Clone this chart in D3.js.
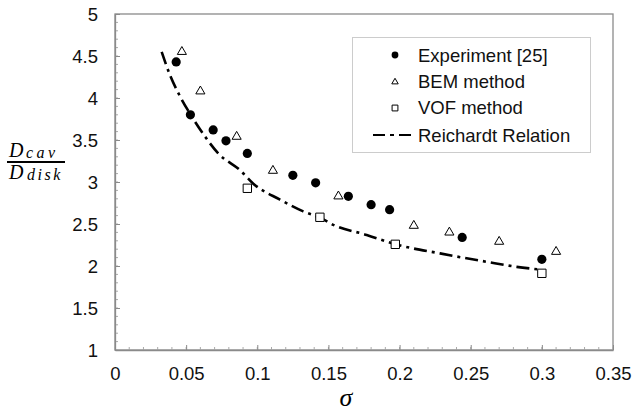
<!DOCTYPE html>
<html><head><meta charset="utf-8">
<script src="https://cdn.jsdelivr.net/npm/d3@7"></script>
<style>body{margin:0;background:#fff}svg{display:block}</style>
</head><body>
<svg id="c" width="632" height="414"></svg>
<script>
// Data
const expSigma = [0.043, 0.053, 0.069, 0.078, 0.093, 0.125, 0.141, 0.164, 0.180, 0.193, 0.244, 0.300];
const expRatio = [4.43, 3.80, 3.62, 3.49, 3.34, 3.08, 2.99, 2.83, 2.73, 2.67, 2.34, 2.08];
const bemSigma = [0.047, 0.060, 0.0855, 0.111, 0.157, 0.210, 0.235, 0.270, 0.310];
const bemRatio = [4.55, 4.08, 3.54, 3.135, 2.83, 2.48, 2.40, 2.29, 2.17];
const vofSigma = [0.093, 0.144, 0.197, 0.300];
const vofRatio = [2.925, 2.58, 2.258, 1.913];
const reiSigma = [0.0328, 0.0387, 0.0457, 0.0532, 0.0633, 0.0726, 0.0879, 0.0972, 0.116, 0.1323, 0.1446, 0.1534, 0.1769, 0.1968, 0.2284, 0.2612, 0.2823, 0.2975];
const reiRatio = [4.55, 4.27, 4.02, 3.80, 3.54, 3.34, 3.14, 2.98, 2.79, 2.65, 2.57, 2.49, 2.37, 2.26, 2.15, 2.05, 1.99, 1.96];
const xTicks = [0, 0.05, 0.1, 0.15, 0.2, 0.25, 0.3, 0.35];
const yTicks = [1, 1.5, 2, 2.5, 3, 3.5, 4, 4.5, 5];
const legendLabels = ["Experiment [25]", "BEM method", "VOF method", "Reichardt Relation"];

const svg = d3.select("#c");
const L = 115, R = 613, T = 14, B = 350;
const x = d3.scaleLinear().domain([0, 0.35]).range([L, R]);
const y = d3.scaleLinear().domain([1, 5]).range([B, T]);
const axisCol = "#8a8a8a";
const font = "Liberation Sans, Arial, sans-serif";

// frame
svg.append("rect").attr("x", L).attr("y", T).attr("width", R - L).attr("height", B - T)
  .attr("fill", "none").attr("stroke", axisCol).attr("stroke-width", 1.3);

// minor ticks
const xMinor = d3.range(0, 36).map(i => i / 100);
const yMinor = d3.range(10, 51).map(i => i / 10);
svg.append("g").selectAll("line").data(xMinor).join("line")
  .attr("x1", d => x(d)).attr("x2", d => x(d)).attr("y1", B).attr("y2", B - 3)
  .attr("stroke", "#aaa").attr("stroke-width", 1);
svg.append("g").selectAll("line").data(yMinor).join("line")
  .attr("x1", L).attr("x2", L + 3).attr("y1", d => y(d)).attr("y2", d => y(d))
  .attr("stroke", "#aaa").attr("stroke-width", 1);

// major axes
const xAxis = svg.append("g").attr("transform", `translate(0,${B})`)
  .call(d3.axisBottom(x).tickValues(xTicks).tickSizeInner(-5).tickSizeOuter(0).tickPadding(16)
    .tickFormat(d => d3.format("")(+d.toFixed(2))));
const yAxis = svg.append("g").attr("transform", `translate(${L},0)`)
  .call(d3.axisLeft(y).tickValues(yTicks).tickSizeInner(-5).tickSizeOuter(0).tickPadding(17)
    .tickFormat(d => d3.format("")(d)));
[xAxis, yAxis].forEach(g => {
  g.select(".domain").attr("stroke", axisCol).attr("stroke-width", 1.3);
  g.selectAll(".tick line").attr("stroke", axisCol);
  g.selectAll(".tick text").attr("fill", "#111").attr("font-family", font).attr("font-size", 18.5);
});
xAxis.selectAll(".tick text").attr("dy", "0.71em").attr("y", 17);
yAxis.selectAll(".tick text").attr("dy", "0.36em");

// Reichardt line
const rei = reiSigma.map((s, i) => [s, reiRatio[i]]);
svg.append("path").datum(rei)
  .attr("d", d3.line().x(d => x(d[0])).y(d => y(d[1])).curve(d3.curveMonotoneX))
  .attr("fill", "none").attr("stroke", "#000").attr("stroke-width", 2.6)
  .attr("stroke-dasharray", "13,5,3,5");

// markers
const sym = (type, size) => d3.symbol().type(type).size(size)();
svg.append("g").selectAll("path").data(vofSigma.map((s, i) => [s, vofRatio[i]])).join("path")
  .attr("transform", d => `translate(${x(d[0])},${y(d[1])})`)
  .attr("d", sym(d3.symbolSquare, 70)).attr("fill", "#fff").attr("stroke", "#000").attr("stroke-width", 1);
svg.append("g").selectAll("path").data(bemSigma.map((s, i) => [s, bemRatio[i]])).join("path")
  .attr("transform", d => `translate(${x(d[0])},${y(d[1])})`)
  .attr("d", sym(d3.symbolTriangle, 36)).attr("fill", "#fff").attr("stroke", "#000").attr("stroke-width", 1);
svg.append("g").selectAll("circle").data(expSigma.map((s, i) => [s, expRatio[i]])).join("circle")
  .attr("cx", d => x(d[0])).attr("cy", d => y(d[1])).attr("r", 4.6).attr("fill", "#000");

// legend
const lg = svg.append("g");
lg.append("rect").attr("x", 352.5).attr("y", 37.5).attr("width", 238).attr("height", 115)
  .attr("fill", "#fff").attr("stroke", "#ccc").attr("stroke-width", 1);
const rows = [55, 81, 107, 135];
lg.append("circle").attr("cx", 395).attr("cy", rows[0]).attr("r", 3.4).attr("fill", "#000");
lg.append("path").attr("transform", `translate(395,${rows[1] + 1})`).attr("d", sym(d3.symbolTriangle, 18))
  .attr("fill", "#fff").attr("stroke", "#000").attr("stroke-width", 1);
lg.append("path").attr("transform", `translate(395,${rows[2] + 1})`).attr("d", sym(d3.symbolSquare, 34))
  .attr("fill", "#fff").attr("stroke", "#000").attr("stroke-width", 1);
lg.append("line").attr("x1", 373).attr("x2", 416).attr("y1", rows[3]).attr("y2", rows[3])
  .attr("stroke", "#000").attr("stroke-width", 2).attr("stroke-dasharray", "12,5,4,5");
lg.selectAll("text.l").data(legendLabels).join("text").attr("class", "l")
  .attr("x", 418).attr("y", (d, i) => rows[i]).attr("dy", "0.36em")
  .attr("font-family", font).attr("font-size", 18.5).attr("fill", "#111").text(d => d);

// axis titles
const mfont = "Liberation Serif, Times New Roman, serif";
svg.append("text").attr("x", 346).attr("y", 406).attr("text-anchor", "middle")
  .attr("font-family", mfont).attr("font-style", "italic").attr("font-size", 26).text("σ");
const mt = (xx, yy, size, ls, t) => svg.append("text").attr("x", xx).attr("y", yy)
  .attr("font-family", mfont).attr("font-style", "italic").attr("font-size", size)
  .attr("letter-spacing", ls).text(t);
mt(9, 157, 20, 0, "D");
mt(26, 158, 16, 3.5, "cav");
svg.append("line").attr("x1", 7).attr("x2", 65).attr("y1", 162).attr("y2", 162)
  .attr("stroke", "#000").attr("stroke-width", 2);
mt(9, 179, 20, 0, "D");
mt(27, 180, 16, 2.5, "disk");
</script>
</body></html>
